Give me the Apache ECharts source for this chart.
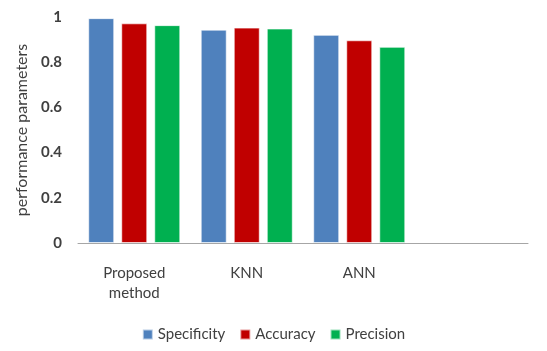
<!DOCTYPE html>
<html>
<head>
<meta charset="utf-8">
<script src="https://cdn.jsdelivr.net/npm/echarts@6/dist/echarts.min.js"></script>
<style>
  html, body { margin: 0; padding: 0; background: #fff; }
  #chart { width: 547px; height: 351px; }
</style>
</head>
<body>
<div id="chart"></div>
<script>
  // methods on the x axis (last slot is empty in the original)
  const methods = ['Proposed\nmethod', 'KNN', 'ANN', '']
  const specificity = [0.995, 0.944, 0.921, null]
  const accuracy = [0.972, 0.953, 0.897, null]
  const precision = [0.964, 0.949, 0.868, null]

  const chart = echarts.init(document.getElementById('chart'))
  const bar = (name, data) => ({
    name: name,
    type: 'bar',
    data: data,
    barWidth: 26,
    barGap: '27%',
    itemStyle: { borderColor: 'rgba(255,255,255,0.6)', borderWidth: 1 }
  })

  chart.setOption({
    animation: false,
    color: ['#4F81BD', '#C00000', '#00B050'],
    grid: { left: 78, right: 19, top: 17, bottom: 108 },
    legend: {
      bottom: 4,
      left: 'center',
      icon: 'rect',
      itemWidth: 10,
      itemHeight: 10,
      itemGap: 14,
      textStyle: { fontFamily: 'Lato', fontSize: 15, color: '#404040' },
      data: ['Specificity', 'Accuracy', 'Precision']
    },
    xAxis: {
      type: 'category',
      data: methods,
      axisLine: { lineStyle: { color: '#A6A6A6', width: 1 } },
      axisTick: { show: false },
      axisLabel: {
        margin: 20,
        fontFamily: 'Lato',
        fontSize: 15,
        lineHeight: 20,
        color: '#404040',
        interval: 0
      }
    },
    yAxis: {
      type: 'value',
      min: 0,
      max: 1,
      interval: 0.2,
      name: 'performance parameters',
      nameLocation: 'middle',
      nameGap: 48,
      nameTextStyle: { fontFamily: 'Lato', fontSize: 16, color: '#404040' },
      axisLine: { show: false },
      axisTick: { show: false },
      splitLine: { show: false },
      axisLabel: {
        margin: 16,
        fontFamily: 'Lato',
        fontSize: 15,
        fontWeight: 'bold',
        color: '#404040'
      }
    },
    series: [
      bar('Specificity', specificity),
      bar('Accuracy', accuracy),
      bar('Precision', precision)
    ]
  })
</script>
</body>
</html>
